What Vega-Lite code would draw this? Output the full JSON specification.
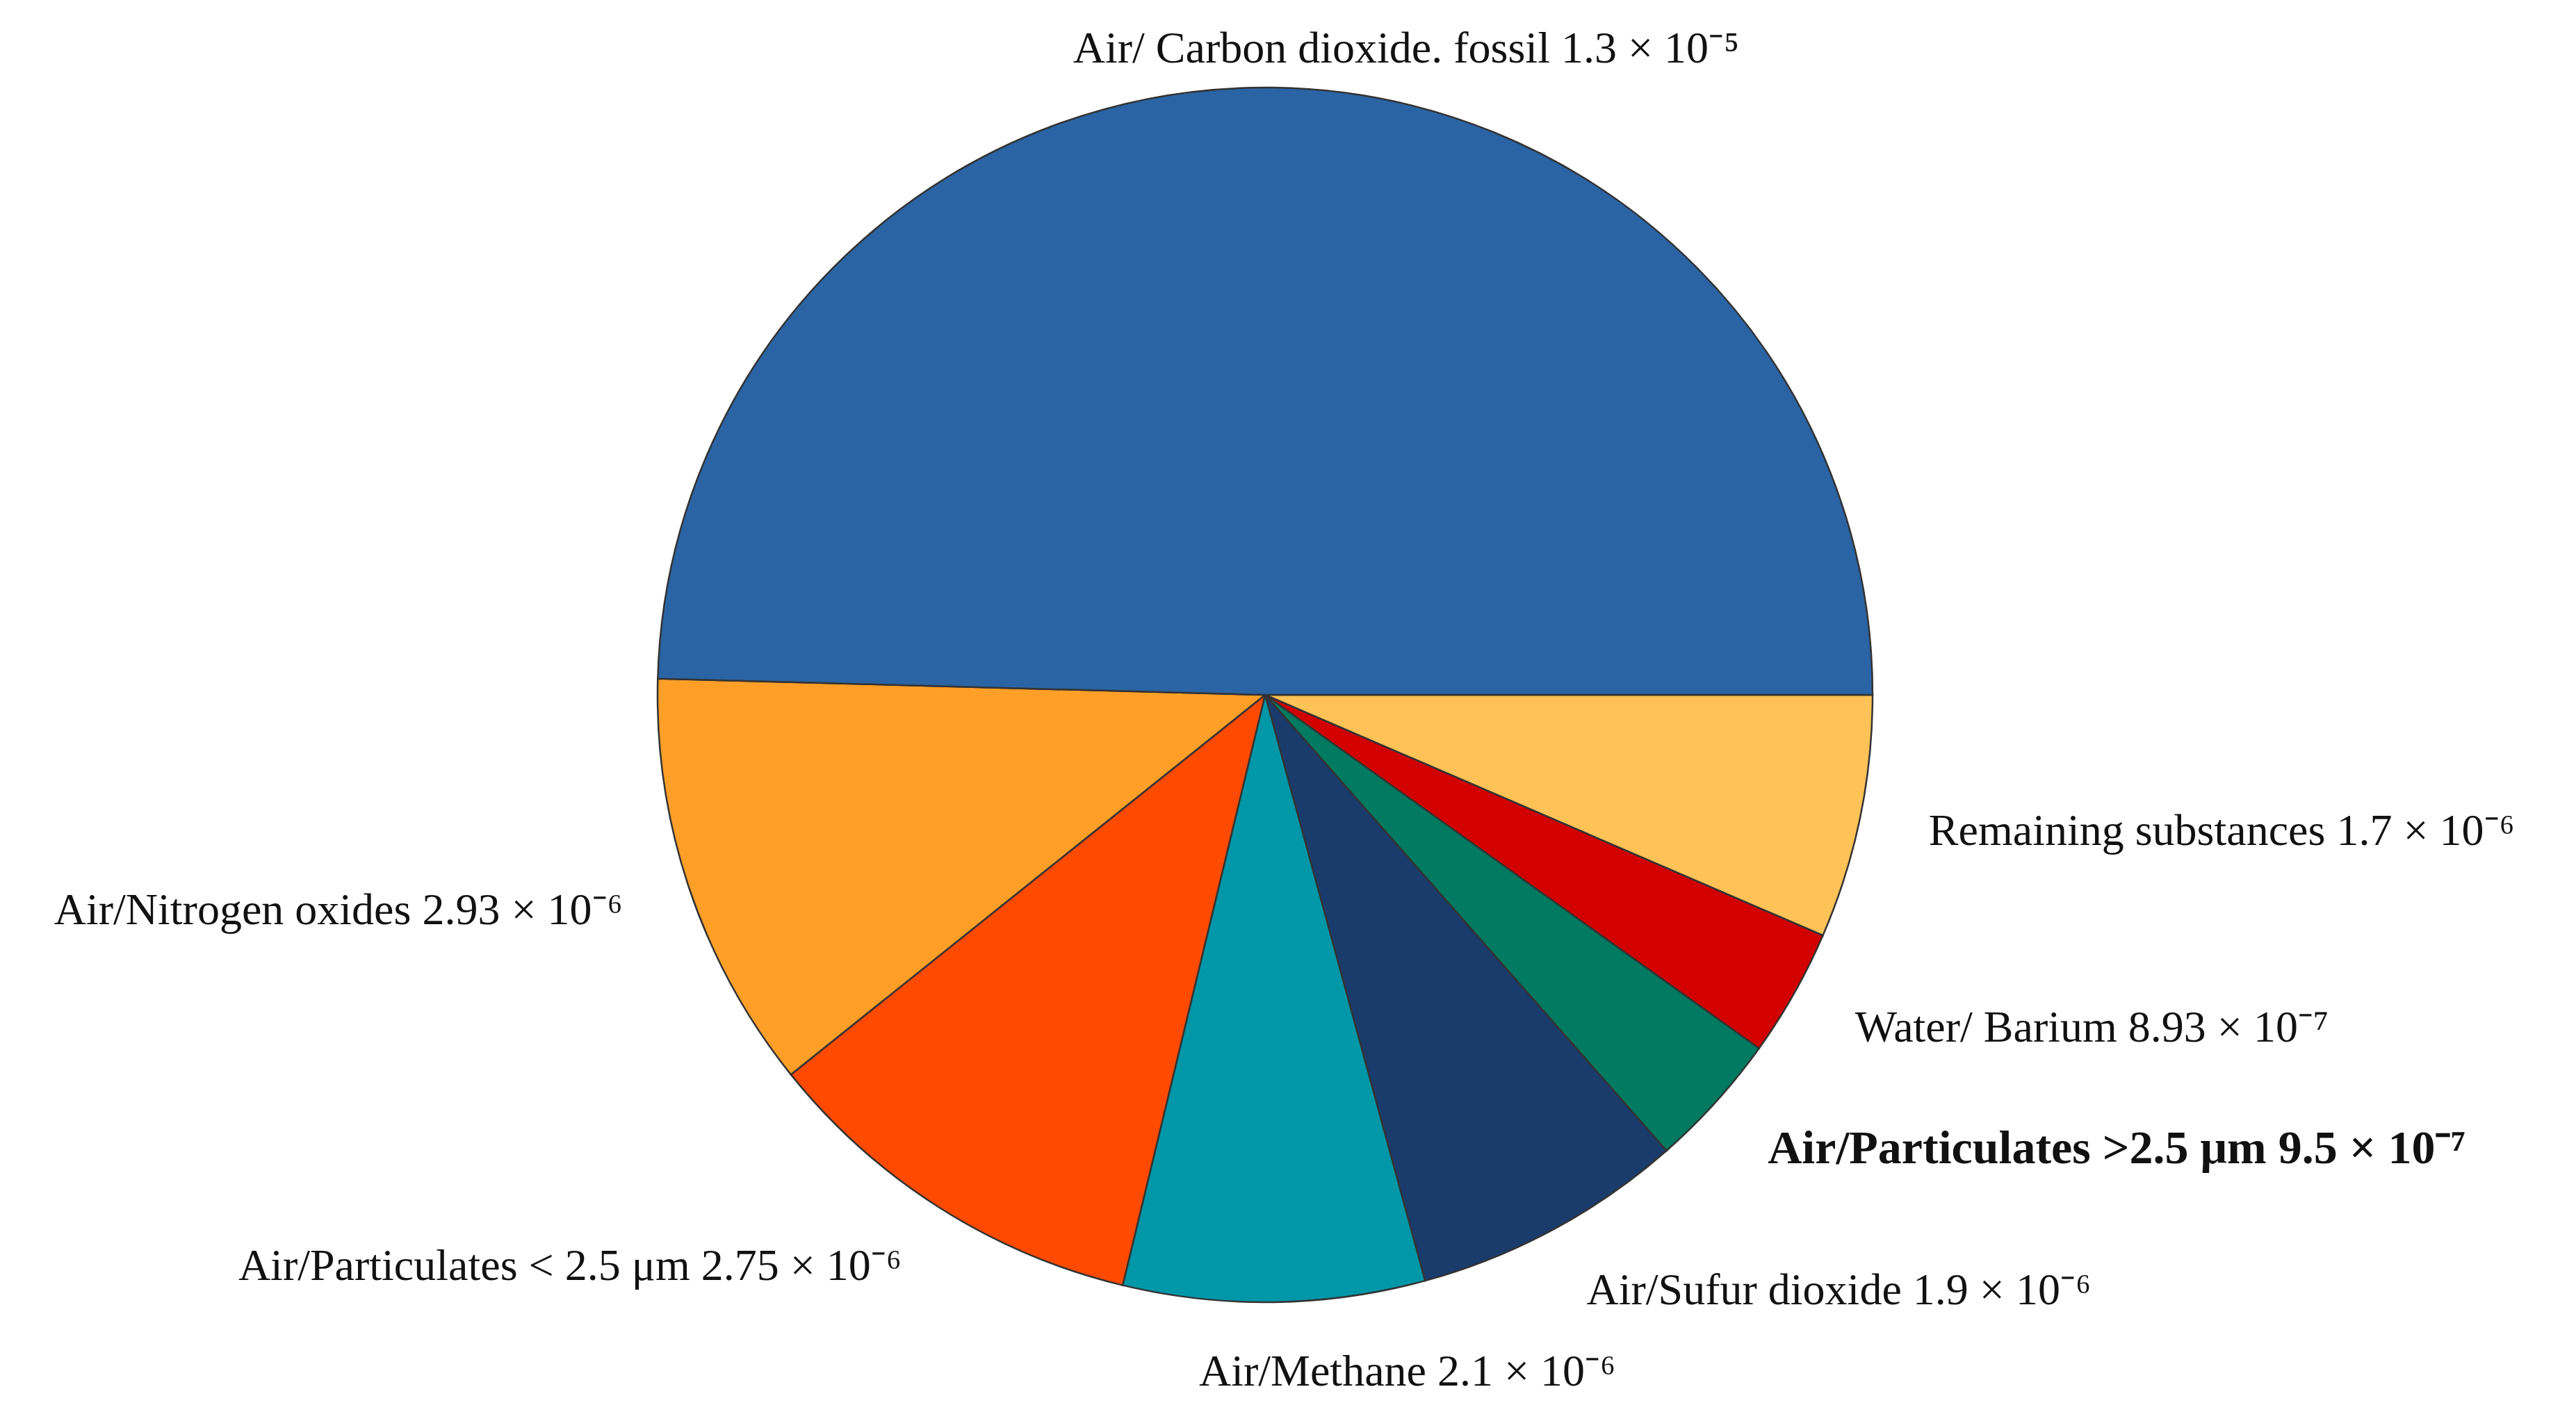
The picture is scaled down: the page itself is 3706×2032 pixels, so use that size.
{
  "$schema": "https://vega.github.io/schema/vega-lite/v6.json",
  "autosize": {"type": "fit", "contains": "padding"},
  "width": 3706,
  "height": 2032,
  "padding": {"left": 0, "top": 0, "right": 66, "bottom": 32},
  "background": "white",
  "view": {"stroke": null},
  "data": {
    "values": [
      {"order": 1, "name": "Remaining substances", "v": 1.7e-6, "label": "Remaining substances 1.7 × 10⁻⁶"},
      {"order": 2, "name": "Water/ Barium", "v": 8.93e-7, "label": "Water/ Barium 8.93 × 10⁻⁷"},
      {"order": 3, "name": "Air/Particulates >2.5 μm", "v": 9.5e-7, "label": "Air/Particulates >2.5 μm 9.5 × 10⁻⁷"},
      {"order": 4, "name": "Air/Sufur dioxide", "v": 1.9e-6, "label": "Air/Sufur dioxide 1.9 × 10⁻⁶"},
      {"order": 5, "name": "Air/Methane", "v": 2.1e-6, "label": "Air/Methane 2.1 × 10⁻⁶"},
      {"order": 6, "name": "Air/Particulates < 2.5 μm", "v": 2.75e-6, "label": "Air/Particulates < 2.5 μm 2.75 × 10⁻⁶"},
      {"order": 7, "name": "Air/Nitrogen oxides", "v": 2.93e-6, "label": "Air/Nitrogen oxides 2.93 × 10⁻⁶"},
      {"order": 8, "name": "Air/ Carbon dioxide. fossil", "v": 1.3e-5, "label": "Air/ Carbon dioxide. fossil 1.3 × 10⁻⁵"}
    ]
  },
  "encoding": {
    "theta": {"field": "v", "type": "quantitative", "stack": true, "scale": {"range": [1.5708, 7.854]}},
    "order": {"field": "order", "type": "quantitative"}
  },
  "layer": [
    {
      "mark": {"type": "arc", "outerRadius": 874, "stroke": "#333333", "strokeWidth": 2.5},
      "encoding": {
        "color": {
          "field": "name",
          "type": "nominal",
          "legend": null,
          "scale": {
            "domain": ["Remaining substances", "Water/ Barium", "Air/Particulates >2.5 μm", "Air/Sufur dioxide", "Air/Methane", "Air/Particulates < 2.5 μm", "Air/Nitrogen oxides", "Air/ Carbon dioxide. fossil"],
            "range": ["#FFC257", "#D20000", "#007A60", "#1A3C6C", "#0098A9", "#FF4A00", "#FF9F28", "#2A64A4"]
          }
        }
      }
    },
    {
      "mark": {
        "type": "text",
        "radius": 975,
        "font": "Liberation Serif",
        "fontSize": {"expr": "datum.order == 3 ? 68 : 64"},
        "fontWeight": {"expr": "datum.order == 3 ? 'bold' : 'normal'"},
        "color": "#111111",
        "baseline": "middle",
        "dx": {"expr": "abs(sin(scale('theta', (datum.v_start + datum.v_end) / 2))) <= 0.3 ? 190 : 0"},
        "dy": {"expr": "cos(scale('theta', (datum.v_start + datum.v_end) / 2)) > 0.9 ? 46 : 0"},
        "align": {"expr": "sin(scale('theta', (datum.v_start + datum.v_end) / 2)) > 0.3 ? 'left' : (sin(scale('theta', (datum.v_start + datum.v_end) / 2)) < -0.3 ? 'right' : 'center')"}
      },
      "encoding": {
        "text": {"field": "label", "type": "nominal"}
      }
    }
  ]
}
